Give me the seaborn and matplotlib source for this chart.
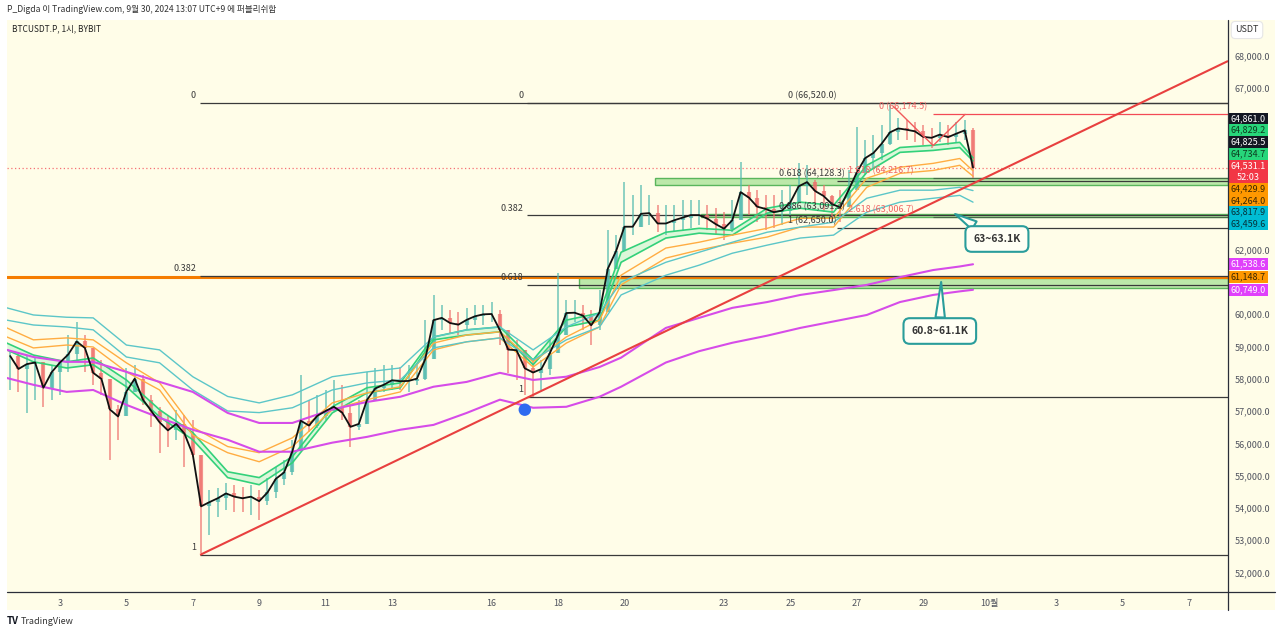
import numpy as np
import pandas as pd
import seaborn as sns
import matplotlib.pyplot as plt
import matplotlib.transforms as mtransforms
from matplotlib.patches import Rectangle
from matplotlib.lines import Line2D

W, H = 1280, 634

# ---------------- data (x axis = day of September, Oct 1 = 31) ----------------
start_day = 1.5      # Sept 1 12:00
step_day = 0.25      # 6 hour candles
closes = [58700, 58300, 58450, 58500, 57720, 58200, 58500, 58750, 59150, 58950,
          58180, 57990, 57050, 56830, 57600, 58000, 57350, 57000, 56650, 56400,
          56600, 56300, 55650, 54050, 54180, 54300, 54450, 54350, 54300, 54350,
          54210, 54480, 54900, 55100, 55750, 56700, 56550, 56850, 57000, 57130,
          56950, 56510, 56600, 57350, 57700, 57810, 57950, 57920, 57930, 58000,
          58600, 59810, 59880, 59720, 59670, 59820, 59930, 59990, 60000, 59500,
          58900, 58880, 58320, 58190, 58300, 58780, 59350, 60030, 60040, 59950,
          59650, 60050, 61400, 61950, 62700, 62700, 63100, 63120, 62800, 62800,
          62900, 62980, 63060, 63060, 62950, 62780, 62640, 62900, 63770, 63600,
          63320, 63250, 63150, 63200, 63460, 63950, 64080, 63800, 63650, 63400,
          63300, 63830, 64380, 64820, 64980, 65270, 65620, 65740, 65700, 65650,
          65480, 65450, 65550, 65470, 65580, 65680, 64531.1]
highs = [58890, 58830, 58730, 58670, 58270, 58420, 58580, 59350, 59750, 59350,
         58890, 58580, 57500, 57190, 58330, 58420, 58110, 57500, 57120, 56880,
         57030, 56880, 56720, 55180, 54560, 54620, 54770, 54710, 54650, 54710,
         54560, 54930, 55270, 55480, 56100, 58110, 57340, 57500, 57650, 57960,
         57800, 57190, 57340, 58210, 58330, 58420, 58420, 58360, 58420, 58420,
         59810, 60590, 60280, 60120, 60060, 60190, 60280, 60280, 60370, 60120,
         59500, 59200, 58730, 58580, 58580, 59200, 61270, 60430, 60430, 60280,
         60120, 60740, 62600, 62440, 64080, 63680, 63990, 63680, 63370, 63370,
         63370, 63530, 63530, 63530, 63370, 63280, 63160, 63530, 64700, 63990,
         63840, 63680, 63680, 63840, 63990, 64670, 64610, 64150, 63990, 63680,
         63840, 64450, 65780, 65380, 65540, 65850, 66460, 66060, 66000, 65940,
         65850, 65750, 65940, 65850, 65940, 66000, 65750]
lows = [57650, 57590, 56940, 57340, 57120, 57340, 57500, 58210, 58520, 58210,
        57800, 57500, 55480, 56100, 57500, 57590, 57190, 56500, 55700, 55890,
        56100, 55270, 55580, 52610, 53160, 53720, 53940, 53880, 53880, 53780,
        53630, 54090, 54310, 54710, 55020, 56100, 56350, 56470, 56720, 57030,
        56720, 55890, 56410, 57190, 57500, 57590, 57650, 57650, 57590, 57800,
        57960, 59500, 59500, 59410, 59350, 59500, 59660, 59660, 59750, 59040,
        58180, 57960, 57500, 57430, 57650, 58110, 58890, 59660, 59750, 59500,
        59040, 59500, 60430, 61520, 62130, 62440, 62750, 62750, 62540, 62440,
        62540, 62600, 62660, 62750, 62600, 62440, 62290, 62540, 63060, 63060,
        62850, 62600, 62660, 62750, 63060, 63530, 63680, 63370, 63160, 62820,
        62850, 63370, 63840, 64300, 64520, 64760, 65230, 65380, 65380, 65320,
        65230, 65130, 65320, 65230, 65320, 65380, 64210]

band_days = [1.4, 2.2, 3.2, 4.0, 5.0, 6.0, 7.0, 8.05, 9.0, 10.0, 11.2, 12.25,
             13.25, 14.25, 15.25, 16.25, 17.25, 18.25, 19.25, 19.9, 21.25, 22.25,
             23.25, 24.3, 25.3, 26.3, 27.3, 28.3, 29.3, 30.1, 30.5]
green_hi = [59100, 58730, 58520, 58640, 57960, 57040, 56330, 55120, 54940, 55590,
            57130, 57720, 57870, 59290, 59510, 59600, 58580, 59810, 60030, 61910,
            62530, 62650, 62590, 63270, 63460, 63360, 64600, 65150, 65220, 65310, 64829.2]
green_lo = [58890, 58520, 58330, 58430, 57750, 56820, 56110, 54940, 54720, 55400,
            56940, 57560, 57720, 59200, 59350, 59450, 58430, 59600, 59810, 61600,
            62350, 62500, 62440, 63120, 63270, 63150, 64380, 65000, 65060, 65150, 64734.7]
orange_hi = [59570, 59200, 59260, 59200, 58490, 57870, 56500, 55900, 55710, 56170,
             57250, 57560, 57750, 59100, 59350, 59450, 58520, 59290, 59810, 61200,
             62040, 62220, 62440, 62650, 62960, 62960, 64200, 64540, 64660, 64810, 64429.9]
orange_lo = [59290, 58950, 59040, 58980, 58210, 57650, 56250, 55710, 55430, 55900,
             57040, 57350, 57590, 58890, 59140, 59260, 58360, 59100, 59600, 60900,
             61730, 61980, 62190, 62380, 62690, 62690, 63920, 64350, 64440, 64600, 64264.0]
cyan_hi = [60190, 59970, 59900, 59880, 59040, 58890, 58060, 57450, 57250, 57500,
           58060, 58210, 58330, 59290, 59510, 59600, 58890, 59600, 60030, 60990,
           61600, 61910, 62220, 62530, 62690, 62840, 63580, 63830, 63830, 63920, 63817.9]
cyan_lo = [59810, 59660, 59600, 59510, 58670, 58490, 57650, 57000, 56950, 57100,
           57650, 57870, 57960, 58950, 59140, 59260, 58580, 59200, 59600, 60590,
           61200, 61510, 61880, 62130, 62350, 62440, 63150, 63460, 63580, 63670, 63459.6]
magenta_a = [58890, 58670, 58520, 58520, 58210, 57900, 57590, 56940, 56630, 56630,
             57050, 57280, 57440, 57750, 57900, 58180, 57960, 58060, 58360, 58650,
             59570, 59880, 60190, 60370, 60590, 60740, 60900, 61140, 61360, 61470, 61538.6]
magenta_b = [58020, 57810, 57590, 57650, 57190, 56790, 56420, 56110, 55740, 55740,
             56020, 56200, 56420, 56570, 56940, 57350, 57100, 57130, 57440, 57750,
             58500, 58850, 59110, 59330, 59570, 59770, 59970, 60370, 60590, 60700, 60749.0]

fib_high = 66520.0
fib1_low, fib1_start = 52550.0, 7.22
fib2_low, fib2_start = 57440.0, 17.07
fib3_low, fib3_start = 62650.0, 26.4
fib1_ratios = [0, 0.382, 1]
fib2_ratios = [0, 0.382, 0.618, 1]
fib3_ratios = [0, 0.618, 0.886, 1]
ext_base, ext_unit, ext_start = 66174.5, 1210.0, 29.3
ext_ratios = [0, 1.618, 2.618]
zig_days = [28.1, 29.3, 30.26]
zig_prices = [66420, 65210, 66174.5]

hline_level = 61148.7
zone_low = [64000, 63000, 60800]
zone_high = [64200, 63100, 61100]
zone_start = [20.92, 22.3, 18.63]

trend_start = (7.22, 52550)
trend_end = (38.18, 67825)
dot_day, dot_price = 17.0, 57040

label_prices = [64861.0, 64829.2, 64825.5, 64734.7, 64531.1, 64429.9, 64264.0,
                63817.9, 63459.6, 61538.6, 61148.7, 60749.0]
label_bg = ['#131722', '#27d67a', '#131722', '#27d67a', '#f23645', '#ff9800', '#ff9800',
            '#00bcd4', '#00bcd4', '#e040fb', '#ff9800', '#e040fb']
label_fg = ['white', '#0d3b1f', 'white', '#0d3b1f', 'white', '#3a2600', '#3a2600',
            '#06323a', '#06323a', 'white', '#3a2600', 'white']
label_rows = [1, 1, 1, 1, 2, 1, 1, 1, 1, 1, 1, 1]
countdown = '52:03'

tick_days = [3, 5, 7, 9, 11, 13, 16, 18, 20, 23, 25, 27, 29, 31, 33, 35, 37]
tick_names = ['3', '5', '7', '9', '11', '13', '16', '18', '20', '23', '25', '27',
              '29', '10월', '3', '5', '7']

# ---------------- style ----------------
sns.set_theme(style='white')
plt.rcParams['font.family'] = ['Noto Sans CJK KR', 'DejaVu Sans']
cream = '#fffde8'
ink = '#3a3a3a'

fig = plt.figure(figsize=(W / 100, H / 100), dpi=100)
fig.patch.set_facecolor('white')
fig.patches.append(Rectangle((7 / W, 1 - 610 / H), (1275 - 7) / W, (610 - 20) / H,
                             transform=fig.transFigure, fc=cream, ec='none', zorder=-5))
ax = fig.add_axes([7 / W, 1 - 592 / H, (1228 - 7) / W, (592 - 20) / H])
ax.set_facecolor(cream)
xmin, xmax = 1.404, 38.18
ymin, ymax = 51401, 69094

# ---------------- candles ----------------
days = start_day + step_day * np.arange(len(closes))
price = pd.DataFrame({'day': days, 'close': closes, 'high': highs, 'low': lows})
price['open'] = price['close'].shift(1).fillna(price['close'].iloc[0])
price['high'] = price[['high', 'open', 'close']].max(axis=1)
price['low'] = price[['low', 'open', 'close']].min(axis=1)
up = price['close'] >= price['open']
for mask, colour in [(up, '#4fb9ae'), (~up, '#ef6f6c')]:
    c = price[mask]
    ax.vlines(c['day'], c['low'], c['high'], color=colour, lw=1.2, alpha=0.75, zorder=4)
    ax.vlines(c['day'], c['open'], c['close'], color=colour, lw=3.0, alpha=0.75, zorder=4)
sns.lineplot(data=price, x='day', y='close', ax=ax, color='#111111', lw=1.3, zorder=6)

# ---------------- moving-average ribbons ----------------
bands = pd.DataFrame({'day': band_days, 'g1': green_hi, 'g2': green_lo, 'o1': orange_hi,
                      'o2': orange_lo, 'c1': cyan_hi, 'c2': cyan_lo,
                      'm1': magenta_a, 'm2': magenta_b})
ax.fill_between(bands['day'], bands['g1'], bands['g2'], color='#8eeab8', alpha=0.3, lw=0, zorder=3)
for col, colour, lw in [('g1', '#33d17a', 1.2), ('g2', '#33d17a', 1.2),
                        ('o1', '#ffad42', 1.0), ('o2', '#ffad42', 1.0),
                        ('c1', '#5cc6c8', 1.0), ('c2', '#5cc6c8', 1.0),
                        ('m1', '#d64ce8', 1.5), ('m2', '#d64ce8', 1.5)]:
    sns.lineplot(data=bands, x='day', y=col, ax=ax, color=colour, lw=lw, zorder=5)

ax.set_xlim(xmin, xmax)
ax.set_ylim(ymin, ymax)

# ---------------- zones and levels ----------------
for lo, hi, x0 in zip(zone_low, zone_high, zone_start):
    ax.add_patch(Rectangle((x0, lo), xmax - x0, hi - lo, fc='#b5e6a3', ec='#4caf50',
                           lw=1.0, alpha=0.9, zorder=2))

ax.axhline(hline_level, color='#f57c00', lw=2.2, zorder=2)
ax.axhline(closes[-1], color='#f23645', lw=0.9, ls=(0, (1, 2)), alpha=0.7, zorder=2)

def fib_lines(low, start, ratios, names, label_day, ha):
    for r, name in zip(ratios, names):
        lvl = fib_high - r * (fib_high - low)
        ax.hlines(lvl, start, xmax, color=ink, lw=0.9, zorder=2)
        if name:
            ax.annotate(name, (label_day, lvl), xytext=(0, 2), textcoords='offset points',
                        ha=ha, va='bottom', fontsize=6.5, color=ink, zorder=7)

fib_lines(fib1_low, fib1_start, fib1_ratios, ['0', '0.382', '1'], fib1_start - 0.12, 'right')
fib_lines(fib2_low, fib2_start, fib2_ratios, ['0', '0.382', '0.618', '1'], fib2_start - 0.12, 'right')
for r in fib3_ratios:
    lvl = fib_high - r * (fib_high - fib3_low)
    if r in (0.618, 1):
        ax.hlines(lvl, fib3_start, xmax, color=ink, lw=0.9, zorder=2)
    ax.annotate(f'{r:g} ({lvl:,.1f})', (25.65, lvl), xytext=(0, 2), textcoords='offset points',
                ha='center', va='bottom', fontsize=6.5, color=ink, zorder=7)

for r in ext_ratios:
    lvl = ext_base - r * ext_unit
    label_day = 28.39 if r == 0 else 27.73
    ax.hlines(lvl, ext_start, xmax, color='#f23645' if r == 0 else ink,
              lw=0.9, alpha=0.9 if r == 0 else 0.6, zorder=2)
    ax.annotate(f'{r:g} ({lvl:,.1f})', (label_day, lvl), xytext=(0, 2), textcoords='offset points',
                ha='center', va='bottom', fontsize=6.5, color='#f06464', zorder=7)
ax.plot(zig_days, zig_prices, color='#f05a5a', lw=1.0, zorder=7)

# trend line from the Sept 7 low
slope = (trend_end[1] - trend_start[1]) / (trend_end[0] - trend_start[0])
ax.plot([trend_start[0], xmax], [trend_start[1], trend_start[1] + slope * (xmax - trend_start[0])],
        color='#e8403f', lw=1.5, zorder=6, solid_capstyle='butt')
ax.scatter([dot_day], [dot_price], s=80, color='#2f6bf0', zorder=8, edgecolor='none')

# callouts
for txt, tip, box in [('63~63.1K', (29.96, 63093), (31.22, 62320)),
                      ('60.8~61.1K', (29.54, 60990), (29.5, 59474))]:
    ax.annotate(txt, xy=tip, xytext=box, ha='center', va='center', fontsize=7.5,
                fontweight='bold', color='#333333', zorder=9,
                bbox=dict(boxstyle='round,pad=0.75,rounding_size=0.6', fc='#fffff4',
                          ec='#2a9d9b', lw=1.5),
                arrowprops=dict(arrowstyle='wedge,tail_width=0.9,shrink_factor=0.5',
                                fc='#fffff4', ec='#2a9d9b', lw=1.5, shrinkA=0, shrinkB=0))

# ---------------- axes ----------------
for s in ax.spines.values():
    s.set_visible(False)
ax.set_xlabel('')
ax.set_ylabel('')
ax.set_xticks(tick_days)
ax.set_xticklabels(tick_names)
ax.tick_params(axis='x', length=0, pad=5, labelsize=6.5, colors='#50535e')

# stacked price labels on the right scale
row_h = 362.0
order = list(np.argsort(label_prices)[::-1])
blocks = [[i] for i in order]

def span(block):
    total = sum(label_rows[i] * row_h for i in block)
    centre = np.mean([label_prices[i] for i in block])
    return centre + total / 2, centre - total / 2

merged = True
while merged:
    merged = False
    for j in range(len(blocks) - 1):
        if span(blocks[j])[1] < span(blocks[j + 1])[0]:
            blocks[j] = blocks[j] + blocks.pop(j + 1)
            merged = True
            break

trans = mtransforms.blended_transform_factory(ax.transAxes, ax.transData)
box_w = 40 / (1228 - 7)
covered = []
for block in blocks:
    top, bottom = span(block)
    covered.append((bottom - row_h / 2, top + row_h / 2))
    cur = top
    for i in block:
        h = label_rows[i] * row_h
        ax.add_patch(Rectangle((1.0, cur - h), box_w, h, transform=trans, fc=label_bg[i],
                               ec='none', clip_on=False, zorder=10))
        ax.text(1.0 + box_w / 2, cur - row_h / 2, f'{label_prices[i]:,.1f}', transform=trans,
                ha='center', va='center', fontsize=6.5, color=label_fg[i], clip_on=False, zorder=11)
        if label_rows[i] == 2:
            ax.text(1.0 + box_w / 2, cur - 1.5 * row_h, countdown, transform=trans,
                    ha='center', va='center', fontsize=6.5, color=label_fg[i], clip_on=False, zorder=11)
        cur -= h

yticks = np.arange(52000, 68001, 1000)
ax.yaxis.tick_right()
ax.set_yticks(yticks)
ax.set_yticklabels([f'{t:,.1f}' if not any(lo <= t <= hi for lo, hi in covered) else ''
                    for t in yticks])
ax.tick_params(axis='y', length=0, pad=5, labelsize=6.5, colors='#50535e')

# frame lines of the scales
fig.add_artist(Line2D([1228 / W, 1228 / W], [1 - 20 / H, 1 - 610 / H], color='#2a2e39', lw=0.9))
fig.add_artist(Line2D([7 / W, 1275 / W], [1 - 592 / H, 1 - 592 / H], color='#2a2e39', lw=0.9))

# ---------------- texts ----------------
fig.text(7 / W, 1 - 9 / H, 'P_Digda 이 TradingView.com, 9월 30, 2024 13:07 UTC+9 에 퍼블리쉬함',
         ha='left', va='center', fontsize=6.2, color='#333333')
fig.text(12 / W, 1 - 29 / H, 'BTCUSDT.P, 1시, BYBIT', ha='left', va='center',
         fontsize=6.0, color='#222222')
fig.text(1247 / W, 1 - 30 / H, 'USDT', ha='center', va='center', fontsize=6.5, color='#333333',
         bbox=dict(boxstyle='round,pad=0.45', fc='white', ec='#e6e6e6', lw=0.8))
fig.text(7 / W, 1 - 621 / H, 'TV', ha='left', va='center', fontsize=7, fontweight='bold',
         color='#131722')
fig.text(21 / W, 1 - 621 / H, 'TradingView', ha='left', va='center', fontsize=6.5,
         color='#333333')

fig.savefig('out.png', dpi=100, facecolor=fig.get_facecolor())
